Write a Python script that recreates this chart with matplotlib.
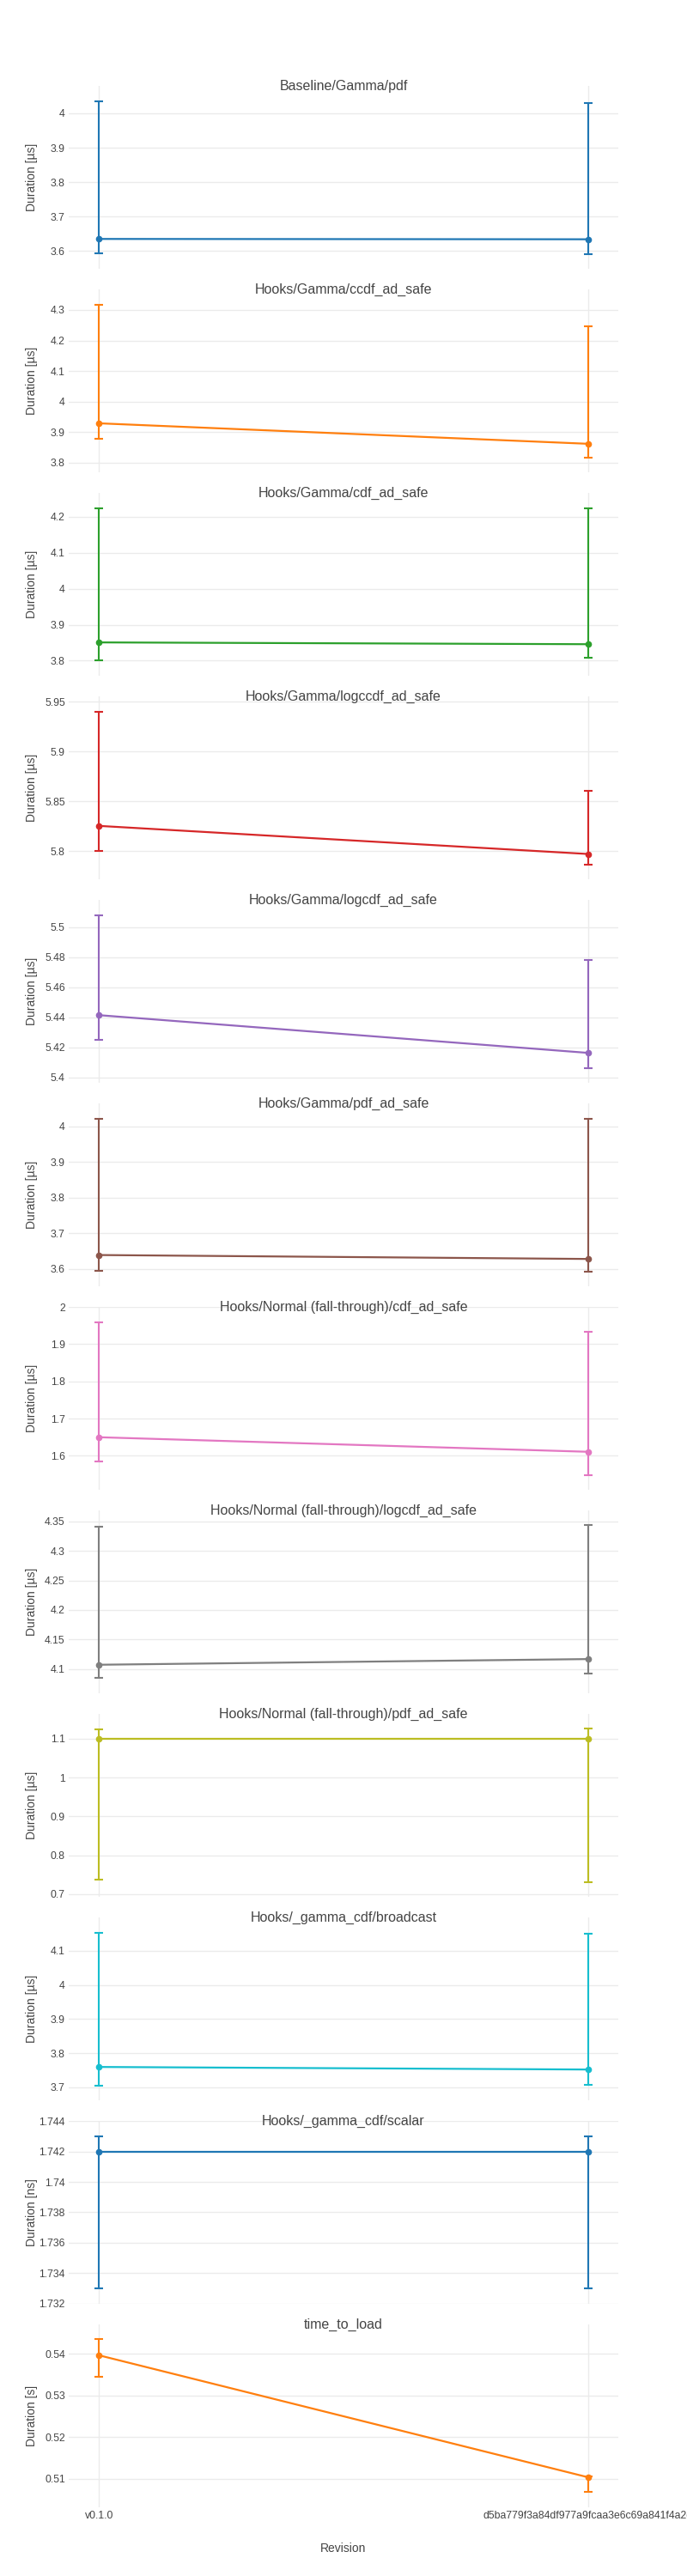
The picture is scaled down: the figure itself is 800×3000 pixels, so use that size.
import matplotlib
matplotlib.use("Agg")
import matplotlib.pyplot as plt
import matplotlib.font_manager as fm
from matplotlib.ticker import MaxNLocator, FuncFormatter

# ── data ───────────────────────────────────────────────────────────────────
revisions = ["v0.1.0", "d5ba779f3a84df977a9fcaa3e6c69a841f4a2d"]
names = ["Baseline/Gamma/pdf", "Hooks/Gamma/ccdf_ad_safe", "Hooks/Gamma/cdf_ad_safe",
         "Hooks/Gamma/logccdf_ad_safe", "Hooks/Gamma/logcdf_ad_safe",
         "Hooks/Gamma/pdf_ad_safe", "Hooks/Normal (fall-through)/cdf_ad_safe",
         "Hooks/Normal (fall-through)/logcdf_ad_safe",
         "Hooks/Normal (fall-through)/pdf_ad_safe", "Hooks/_gamma_cdf/broadcast",
         "Hooks/_gamma_cdf/scalar", "time_to_load"]
units = ["µs"] * 10 + ["ns", "s"]

old_mean = [3.635, 3.929, 3.851, 5.8253, 5.4413, 3.639, 1.6497, 4.1073, 1.100, 3.7595, 1.742, 0.5396]
old_hi   = [4.036, 4.318, 4.225, 5.9402, 5.5080, 4.021, 1.9590, 4.3413, 1.1234, 4.1540, 1.743, 0.5434]
old_lo   = [3.593, 3.877, 3.800, 5.8003, 5.4246, 3.594, 1.5839, 4.0844, 0.7367, 3.7058, 1.733, 0.5344]
new_mean = [3.634, 3.862, 3.846, 5.7971, 5.4162, 3.628, 1.6106, 4.1169, 1.100, 3.7520, 1.742, 0.5104]
new_hi   = [4.030, 4.246, 4.224, 5.8607, 5.4779, 4.022, 1.9322, 4.3432, 1.1249, 4.1504, 1.743, 0.5107]
new_lo   = [3.592, 3.818, 3.808, 5.7868, 5.4063, 3.5935, 1.5488, 4.0922, 0.7316, 3.7083, 1.733, 0.5068]

colors = ["#1f77b4", "#ff7f0e", "#2ca02c", "#d62728", "#9467bd", "#8c564b",
          "#e377c2", "#7f7f7f", "#bcbd22", "#17becf", "#1f77b4", "#ff7f0e"]

# ── fonts ──────────────────────────────────────────────────────────────────
avail = {f.name for f in fm.fontManager.ttflist}
NARROW = "Liberation Sans Narrow" if "Liberation Sans Narrow" in avail else "Liberation Sans"
REG = "Liberation Sans" if "Liberation Sans" in avail else "DejaVu Sans"
TXT = "#444444"

W, H = 800, 3000
L, R, TOP, PH, STEP = 80, 720, 100, 213, 237


def snap_limits(ax, lo, hi):
    # plotly keeps a tick sitting right on the range edge; nudge so matplotlib does too
    loc = MaxNLocator(nbins=7, steps=[1, 2, 5, 10])
    ticks = loc.tick_values(lo, hi)
    step = ticks[1] - ticks[0]
    tol = 0.01 * step
    a, b = lo, hi
    for t in ticks:
        if abs(t - lo) < tol:
            a = min(lo, t) - 1e-9 * step
        if abs(t - hi) < tol:
            b = max(hi, t) + 1e-9 * step
    ax.set_ylim(a, b)
    ax.yaxis.set_major_locator(loc)


fig = plt.figure(figsize=(W / 100, H / 100), dpi=100)
for i, name in enumerate(names):
    top = TOP + STEP * i
    ax = fig.add_axes([L / W, 1 - (top + PH) / H, (R - L) / W, PH / H])
    c = colors[i]
    ys = [old_mean[i], new_mean[i]]
    err = [[old_mean[i] - old_lo[i], new_mean[i] - new_lo[i]],
           [old_hi[i] - old_mean[i], new_hi[i] - new_mean[i]]]
    ax.errorbar([0, 1], ys, yerr=err, color=c, lw=1.6, marker="o", ms=4.5,
                elinewidth=1.5, capsize=3.5, capthick=1.5, zorder=3)

    lo = min(old_lo[i], new_lo[i]); hi = max(old_hi[i], new_hi[i])
    pad = (hi - lo) * 17.5 / (PH - 35)
    snap_limits(ax, lo - pad, hi + pad)
    ax.set_xlim(-0.062, 1.062)

    ax.yaxis.set_major_formatter(FuncFormatter(lambda v, p: f"{v:.6g}"))
    ax.set_xticks([0, 1])
    ax.grid(True, color="#ebebeb", lw=1)
    ax.set_axisbelow(True)
    for s in ax.spines.values():
        s.set_visible(False)
    ax.tick_params(length=0, pad=3, colors=TXT, labelsize=8.8)
    for t in ax.get_yticklabels():
        t.set_family(NARROW)
    if i < len(names) - 1:
        ax.set_xticklabels([])
    else:
        ax.set_xticklabels(revisions, family=NARROW, fontsize=8.8, color=TXT)
        for t in ax.get_xticklabels():
            t.set_clip_on(False)
        ax.set_xlabel("Revision", family=NARROW, fontsize=10, color=TXT, labelpad=18)

    ax.text(0.5, 1.0, name, transform=ax.transAxes, ha="center", va="center",
            family=NARROW, fontsize=11.5, color=TXT)
    ax.text(-0.067, 0.5, f"Duration [{units[i]}]", transform=ax.transAxes,
            rotation=90, ha="center", va="center", family=REG, fontsize=10, color=TXT)

fig.savefig("out.png", dpi=100, facecolor="white")
